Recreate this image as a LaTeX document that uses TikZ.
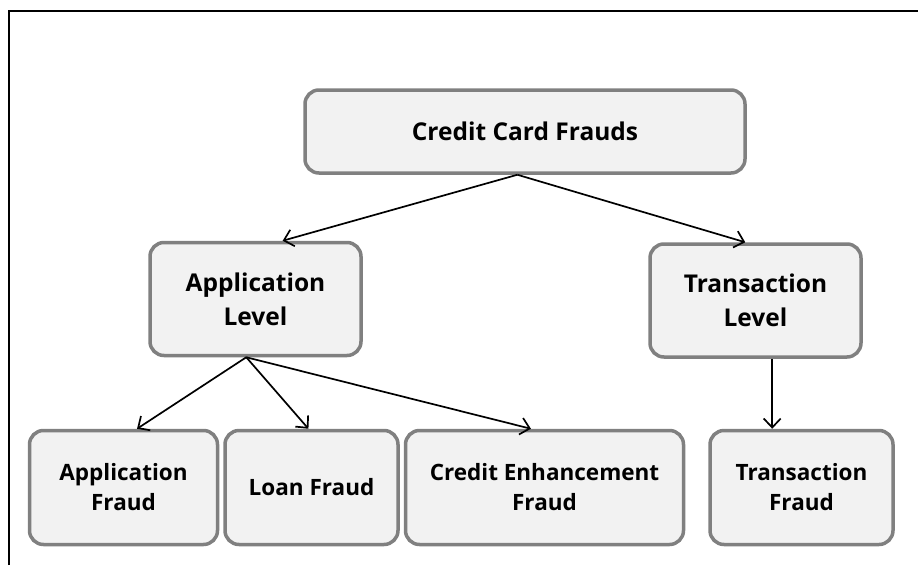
\documentclass[tikz,border=0pt]{standalone}
\usepackage{fontspec}
\setmainfont{Open Sans}
\usepackage{tikz}
\usetikzlibrary{arrows.meta, positioning}

\definecolor{boxline}{HTML}{808080}
\definecolor{boxfill}{HTML}{F2F2F2}

\begin{document}
\begin{tikzpicture}[
            x = 1pt, y = -1pt,
            node distance = 4pt and 4pt,
            every node/.style = {rectangle, rounded corners = 14pt, draw = boxline, fill = boxfill,
                                 line width = 3.5pt, text = black, align = center,
                                 inner sep = 0pt},
            big/.style   = {font = \fontsize{24.5}{34}\selectfont\bfseries},
            small/.style = {font = \fontsize{22.5}{30}\selectfont\bfseries,
                            minimum height = 114pt},
            link/.style  = {-{Straight Barb[length=9pt,width=17pt]}, line width = 1.7pt}
                                 ]
            \useasboundingbox (0,0) rectangle (918,565);
            \draw [line width = 2pt] (8.5,565) -- (8.5,10.5) -- (918,10.5);
            %
            \node (CCF) [big, minimum width = 440pt, minimum height = 83pt]
                        at (525,131.5) {Credit Card Frauds};
            \node (AL)  [big, minimum width = 211pt, minimum height = 113pt]
                        at (255.5,299) {Application\\Level};
            \node (TL)  [big, minimum width = 211pt, minimum height = 113pt]
                        at (755.5,300.5) {Transaction\\Level};
            \node (AF)  [small, minimum width = 188pt] at (123.5,487.5) {Application\\Fraud};
            \node (LF)  [small, minimum width = 173pt, right = of AF] {Loan Fraud};
            \node (CEF) [small, minimum width = 278pt, right = of LF] {Credit Enhancement\\Fraud};
            \node (TF)  [small, minimum width = 183pt] at (801.5,487.5) {Transaction\\Fraud};
            %
            \draw [link] (CCF.260) -- (AL.65);
            \draw [link] (CCF.260) -- (TL.100);
            \draw [link] (AL.261) -- (AF.77);
            \draw [link] (AL.261) -- (LF.93);
            \draw [link] (AL.261) -- (CEF.103);
            \draw [link] (TL.-74) -- (TL.-74 |- TF.north);
    \end{tikzpicture}
\end{document}
